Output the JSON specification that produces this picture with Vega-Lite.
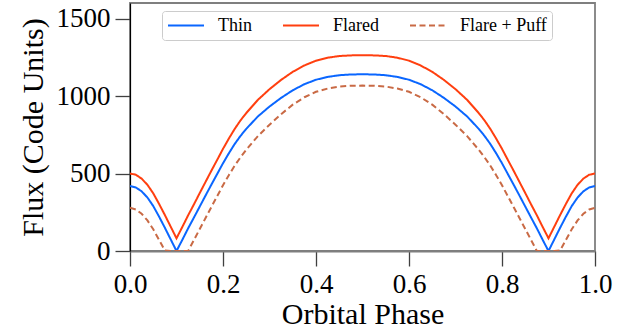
{
  "$schema": "https://vega.github.io/schema/vega-lite/v6.json",
  "width": 465,
  "height": 248,
  "autosize": {"type": "none"},
  "padding": {"left": 130, "top": 3, "right": 40, "bottom": 82},
  "background": "white",
  "data": {
    "values": [
      {"phase": 0, "flux": 419, "model": "Thin"},
      {"phase": 0.0125, "flux": 410, "model": "Thin"},
      {"phase": 0.025, "flux": 385, "model": "Thin"},
      {"phase": 0.0375, "flux": 345, "model": "Thin"},
      {"phase": 0.05, "flux": 290, "model": "Thin"},
      {"phase": 0.0625, "flux": 222, "model": "Thin"},
      {"phase": 0.075, "flux": 150, "model": "Thin"},
      {"phase": 0.0875, "flux": 75, "model": "Thin"},
      {"phase": 0.1, "flux": 0, "model": "Thin"},
      {"phase": 0.1125, "flux": 72, "model": "Thin"},
      {"phase": 0.125, "flux": 146, "model": "Thin"},
      {"phase": 0.1375, "flux": 216, "model": "Thin"},
      {"phase": 0.15, "flux": 287, "model": "Thin"},
      {"phase": 0.1625, "flux": 358, "model": "Thin"},
      {"phase": 0.175, "flux": 428, "model": "Thin"},
      {"phase": 0.1875, "flux": 497, "model": "Thin"},
      {"phase": 0.2, "flux": 566, "model": "Thin"},
      {"phase": 0.2125, "flux": 630, "model": "Thin"},
      {"phase": 0.225, "flux": 690, "model": "Thin"},
      {"phase": 0.2375, "flux": 742, "model": "Thin"},
      {"phase": 0.25, "flux": 788, "model": "Thin"},
      {"phase": 0.275, "flux": 868, "model": "Thin"},
      {"phase": 0.3, "flux": 932, "model": "Thin"},
      {"phase": 0.325, "flux": 988, "model": "Thin"},
      {"phase": 0.35, "flux": 1037, "model": "Thin"},
      {"phase": 0.375, "flux": 1076, "model": "Thin"},
      {"phase": 0.4, "flux": 1105, "model": "Thin"},
      {"phase": 0.425, "flux": 1123, "model": "Thin"},
      {"phase": 0.45, "flux": 1134, "model": "Thin"},
      {"phase": 0.475, "flux": 1139, "model": "Thin"},
      {"phase": 0.5, "flux": 1140, "model": "Thin"},
      {"phase": 0.525, "flux": 1139, "model": "Thin"},
      {"phase": 0.55, "flux": 1134, "model": "Thin"},
      {"phase": 0.575, "flux": 1123, "model": "Thin"},
      {"phase": 0.6, "flux": 1105, "model": "Thin"},
      {"phase": 0.625, "flux": 1076, "model": "Thin"},
      {"phase": 0.65, "flux": 1037, "model": "Thin"},
      {"phase": 0.675, "flux": 988, "model": "Thin"},
      {"phase": 0.7, "flux": 932, "model": "Thin"},
      {"phase": 0.725, "flux": 868, "model": "Thin"},
      {"phase": 0.75, "flux": 788, "model": "Thin"},
      {"phase": 0.7625, "flux": 742, "model": "Thin"},
      {"phase": 0.775, "flux": 690, "model": "Thin"},
      {"phase": 0.7875, "flux": 630, "model": "Thin"},
      {"phase": 0.8, "flux": 566, "model": "Thin"},
      {"phase": 0.8125, "flux": 497, "model": "Thin"},
      {"phase": 0.825, "flux": 428, "model": "Thin"},
      {"phase": 0.8375, "flux": 358, "model": "Thin"},
      {"phase": 0.85, "flux": 287, "model": "Thin"},
      {"phase": 0.8625, "flux": 216, "model": "Thin"},
      {"phase": 0.875, "flux": 146, "model": "Thin"},
      {"phase": 0.8875, "flux": 72, "model": "Thin"},
      {"phase": 0.9, "flux": 0, "model": "Thin"},
      {"phase": 0.9125, "flux": 75, "model": "Thin"},
      {"phase": 0.925, "flux": 150, "model": "Thin"},
      {"phase": 0.9375, "flux": 222, "model": "Thin"},
      {"phase": 0.95, "flux": 290, "model": "Thin"},
      {"phase": 0.9625, "flux": 345, "model": "Thin"},
      {"phase": 0.975, "flux": 385, "model": "Thin"},
      {"phase": 0.9875, "flux": 410, "model": "Thin"},
      {"phase": 1, "flux": 419, "model": "Thin"},

      {"phase": 0, "flux": 500, "model": "Flared"},
      {"phase": 0.0125, "flux": 492, "model": "Flared"},
      {"phase": 0.025, "flux": 467, "model": "Flared"},
      {"phase": 0.0375, "flux": 427, "model": "Flared"},
      {"phase": 0.05, "flux": 372, "model": "Flared"},
      {"phase": 0.0625, "flux": 304, "model": "Flared"},
      {"phase": 0.075, "flux": 232, "model": "Flared"},
      {"phase": 0.0875, "flux": 157, "model": "Flared"},
      {"phase": 0.1, "flux": 82, "model": "Flared"},
      {"phase": 0.1125, "flux": 155, "model": "Flared"},
      {"phase": 0.125, "flux": 230, "model": "Flared"},
      {"phase": 0.1375, "flux": 301, "model": "Flared"},
      {"phase": 0.15, "flux": 374, "model": "Flared"},
      {"phase": 0.1625, "flux": 446, "model": "Flared"},
      {"phase": 0.175, "flux": 518, "model": "Flared"},
      {"phase": 0.1875, "flux": 588, "model": "Flared"},
      {"phase": 0.2, "flux": 659, "model": "Flared"},
      {"phase": 0.2125, "flux": 725, "model": "Flared"},
      {"phase": 0.225, "flux": 787, "model": "Flared"},
      {"phase": 0.2375, "flux": 842, "model": "Flared"},
      {"phase": 0.25, "flux": 890, "model": "Flared"},
      {"phase": 0.275, "flux": 975, "model": "Flared"},
      {"phase": 0.3, "flux": 1044, "model": "Flared"},
      {"phase": 0.325, "flux": 1104, "model": "Flared"},
      {"phase": 0.35, "flux": 1156, "model": "Flared"},
      {"phase": 0.375, "flux": 1197, "model": "Flared"},
      {"phase": 0.4, "flux": 1228, "model": "Flared"},
      {"phase": 0.425, "flux": 1247, "model": "Flared"},
      {"phase": 0.45, "flux": 1258, "model": "Flared"},
      {"phase": 0.475, "flux": 1262, "model": "Flared"},
      {"phase": 0.5, "flux": 1263, "model": "Flared"},
      {"phase": 0.525, "flux": 1262, "model": "Flared"},
      {"phase": 0.55, "flux": 1258, "model": "Flared"},
      {"phase": 0.575, "flux": 1247, "model": "Flared"},
      {"phase": 0.6, "flux": 1228, "model": "Flared"},
      {"phase": 0.625, "flux": 1197, "model": "Flared"},
      {"phase": 0.65, "flux": 1156, "model": "Flared"},
      {"phase": 0.675, "flux": 1104, "model": "Flared"},
      {"phase": 0.7, "flux": 1044, "model": "Flared"},
      {"phase": 0.725, "flux": 975, "model": "Flared"},
      {"phase": 0.75, "flux": 890, "model": "Flared"},
      {"phase": 0.7625, "flux": 842, "model": "Flared"},
      {"phase": 0.775, "flux": 787, "model": "Flared"},
      {"phase": 0.7875, "flux": 725, "model": "Flared"},
      {"phase": 0.8, "flux": 659, "model": "Flared"},
      {"phase": 0.8125, "flux": 588, "model": "Flared"},
      {"phase": 0.825, "flux": 518, "model": "Flared"},
      {"phase": 0.8375, "flux": 446, "model": "Flared"},
      {"phase": 0.85, "flux": 374, "model": "Flared"},
      {"phase": 0.8625, "flux": 301, "model": "Flared"},
      {"phase": 0.875, "flux": 230, "model": "Flared"},
      {"phase": 0.8875, "flux": 155, "model": "Flared"},
      {"phase": 0.9, "flux": 82, "model": "Flared"},
      {"phase": 0.9125, "flux": 157, "model": "Flared"},
      {"phase": 0.925, "flux": 232, "model": "Flared"},
      {"phase": 0.9375, "flux": 304, "model": "Flared"},
      {"phase": 0.95, "flux": 372, "model": "Flared"},
      {"phase": 0.9625, "flux": 427, "model": "Flared"},
      {"phase": 0.975, "flux": 467, "model": "Flared"},
      {"phase": 0.9875, "flux": 492, "model": "Flared"},
      {"phase": 1, "flux": 500, "model": "Flared"},

      {"phase": 0, "flux": 279, "model": "Flare + Puff"},
      {"phase": 0.0125, "flux": 268, "model": "Flare + Puff"},
      {"phase": 0.025, "flux": 240, "model": "Flare + Puff"},
      {"phase": 0.0375, "flux": 197, "model": "Flare + Puff"},
      {"phase": 0.05, "flux": 140, "model": "Flare + Puff"},
      {"phase": 0.0625, "flux": 72, "model": "Flare + Puff"},
      {"phase": 0.075, "flux": 3, "model": "Flare + Puff"},
      {"phase": 0.0875, "flux": 0, "model": "Flare + Puff"},
      {"phase": 0.1, "flux": 0, "model": "Flare + Puff"},
      {"phase": 0.1125, "flux": 0, "model": "Flare + Puff"},
      {"phase": 0.125, "flux": 0, "model": "Flare + Puff"},
      {"phase": 0.1375, "flux": 71, "model": "Flare + Puff"},
      {"phase": 0.15, "flux": 142, "model": "Flare + Puff"},
      {"phase": 0.1625, "flux": 213, "model": "Flare + Puff"},
      {"phase": 0.175, "flux": 284, "model": "Flare + Puff"},
      {"phase": 0.1875, "flux": 354, "model": "Flare + Puff"},
      {"phase": 0.2, "flux": 424, "model": "Flare + Puff"},
      {"phase": 0.2125, "flux": 489, "model": "Flare + Puff"},
      {"phase": 0.225, "flux": 550, "model": "Flare + Puff"},
      {"phase": 0.2375, "flux": 604, "model": "Flare + Puff"},
      {"phase": 0.25, "flux": 653, "model": "Flare + Puff"},
      {"phase": 0.275, "flux": 741, "model": "Flare + Puff"},
      {"phase": 0.3, "flux": 815, "model": "Flare + Puff"},
      {"phase": 0.325, "flux": 883, "model": "Flare + Puff"},
      {"phase": 0.35, "flux": 944, "model": "Flare + Puff"},
      {"phase": 0.375, "flux": 992, "model": "Flare + Puff"},
      {"phase": 0.4, "flux": 1027, "model": "Flare + Puff"},
      {"phase": 0.425, "flux": 1048, "model": "Flare + Puff"},
      {"phase": 0.45, "flux": 1061, "model": "Flare + Puff"},
      {"phase": 0.475, "flux": 1066, "model": "Flare + Puff"},
      {"phase": 0.5, "flux": 1067, "model": "Flare + Puff"},
      {"phase": 0.525, "flux": 1066, "model": "Flare + Puff"},
      {"phase": 0.55, "flux": 1061, "model": "Flare + Puff"},
      {"phase": 0.575, "flux": 1048, "model": "Flare + Puff"},
      {"phase": 0.6, "flux": 1027, "model": "Flare + Puff"},
      {"phase": 0.625, "flux": 992, "model": "Flare + Puff"},
      {"phase": 0.65, "flux": 944, "model": "Flare + Puff"},
      {"phase": 0.675, "flux": 883, "model": "Flare + Puff"},
      {"phase": 0.7, "flux": 815, "model": "Flare + Puff"},
      {"phase": 0.725, "flux": 741, "model": "Flare + Puff"},
      {"phase": 0.75, "flux": 653, "model": "Flare + Puff"},
      {"phase": 0.7625, "flux": 604, "model": "Flare + Puff"},
      {"phase": 0.775, "flux": 550, "model": "Flare + Puff"},
      {"phase": 0.7875, "flux": 489, "model": "Flare + Puff"},
      {"phase": 0.8, "flux": 424, "model": "Flare + Puff"},
      {"phase": 0.8125, "flux": 354, "model": "Flare + Puff"},
      {"phase": 0.825, "flux": 284, "model": "Flare + Puff"},
      {"phase": 0.8375, "flux": 213, "model": "Flare + Puff"},
      {"phase": 0.85, "flux": 142, "model": "Flare + Puff"},
      {"phase": 0.8625, "flux": 71, "model": "Flare + Puff"},
      {"phase": 0.875, "flux": 0, "model": "Flare + Puff"},
      {"phase": 0.8875, "flux": 0, "model": "Flare + Puff"},
      {"phase": 0.9, "flux": 0, "model": "Flare + Puff"},
      {"phase": 0.9125, "flux": 0, "model": "Flare + Puff"},
      {"phase": 0.925, "flux": 3, "model": "Flare + Puff"},
      {"phase": 0.9375, "flux": 72, "model": "Flare + Puff"},
      {"phase": 0.95, "flux": 140, "model": "Flare + Puff"},
      {"phase": 0.9625, "flux": 197, "model": "Flare + Puff"},
      {"phase": 0.975, "flux": 240, "model": "Flare + Puff"},
      {"phase": 0.9875, "flux": 268, "model": "Flare + Puff"},
      {"phase": 1, "flux": 279, "model": "Flare + Puff"}
    ]
  },
  "mark": {"type": "line", "strokeWidth": 2, "clip": true},
  "encoding": {
    "x": {
      "field": "phase",
      "type": "quantitative",
      "scale": {"domain": [0, 1], "nice": false, "zero": false},
      "axis": {
        "title": "Orbital Phase",
        "values": [0, 0.2, 0.4, 0.6, 0.8, 1],
        "format": ".1f",
        "labelFlush": false,
        "labelOverlap": false,
        "labelPadding": 5,
        "titlePadding": 2,
        "domainColor": "#7f7f7f",
        "domainWidth": 1.8
      }
    },
    "y": {
      "field": "flux",
      "type": "quantitative",
      "scale": {"domain": [0, 1600], "nice": false},
      "axis": {
        "title": "Flux (Code Units)",
        "values": [0, 500, 1000, 1500],
        "format": "d",
        "labelPadding": 5,
        "titlePadding": 8,
        "domainColor": "#000000",
        "domainWidth": 1.2
      }
    },
    "color": {
      "field": "model",
      "type": "nominal",
      "scale": {
        "domain": ["Thin", "Flared", "Flare + Puff"],
        "range": ["#0a66ff", "#ff3f0f", "#c96a45"]
      },
      "legend": {"title": null, "orient": "none", "legendX": 32, "legendY": 8, "direction": "horizontal"}
    },
    "strokeDash": {
      "field": "model",
      "type": "nominal",
      "scale": {
        "domain": ["Thin", "Flared", "Flare + Puff"],
        "range": [[1, 0], [1, 0], [6, 3.5]]
      },
      "legend": {"title": null, "orient": "none", "legendX": 32, "legendY": 8, "direction": "horizontal"}
    }
  },
  "config": {
    "font": "Liberation Serif",
    "view": {"stroke": "#7f7f7f", "strokeWidth": 1.8},
    "axis": {
      "grid": false,
      "labelFont": "Liberation Serif",
      "labelFontSize": 27,
      "labelColor": "#000000",
      "titleFont": "Liberation Serif",
      "titleFontSize": 30,
      "titleFontWeight": "normal",
      "titleColor": "#000000",
      "tickSize": 15,
      "tickColor": "#404040",
      "tickWidth": 1.3
    },
    "legend": {
      "symbolType": "stroke",
      "symbolSize": 1296,
      "symbolStrokeWidth": 2,
      "clipHeight": 19,
      "labelFont": "Liberation Serif",
      "labelFontSize": 18,
      "labelColor": "#000000",
      "labelOffset": 13,
      "columnPadding": 30,
      "padding": 5,
      "fillColor": "#ffffff",
      "strokeColor": "#cccccc",
      "cornerRadius": 3
    }
  }
}
